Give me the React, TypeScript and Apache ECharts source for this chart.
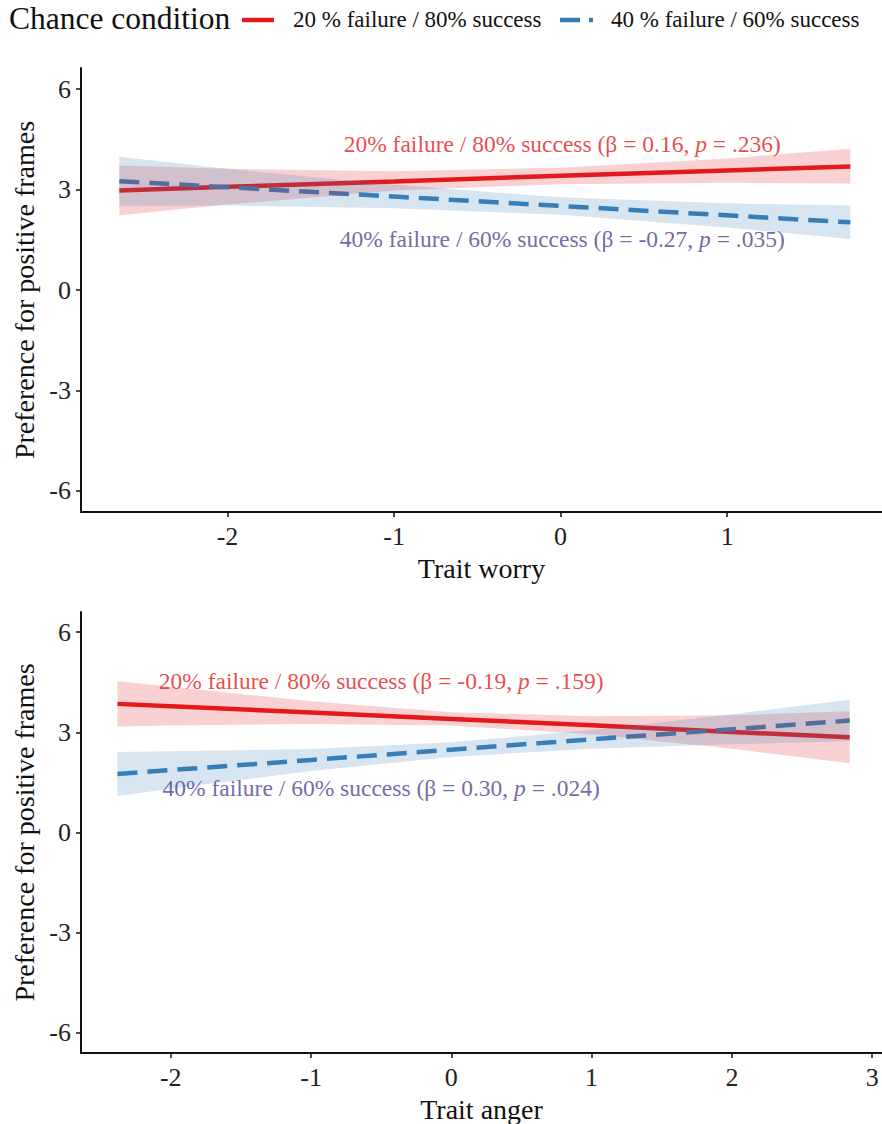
import React, { useEffect, useRef } from "react";
import * as echarts from "echarts";

const FONT = "'Liberation Serif', 'Times New Roman', serif";
const RED = "#e41a1c";
const BLUE = "#377eb8";
const PURPLE = "#4e4290";
const RED_FILL = "rgba(228,26,28,0.2)";
const BLUE_FILL = "rgba(55,126,184,0.2)";

const legendTitle = "Chance condition";
const legendNames = ["20 % failure / 80% success", "40 % failure / 60% success"];

const yTicks = [-6, -3, 0, 3, 6];
const worryTicks = [-2, -1, 0, 1];
const angerTicks = [-2, -1, 0, 1, 2, 3];

// Panel 1: Trait worry
const worryX = [-2.65, -2, -1, 0, 1, 1.74];
const worryRedFit = [2.97, 3.08, 3.24, 3.41, 3.57, 3.69];
const worryRedLow = [2.23, 2.55, 2.97, 3.16, 3.2, 3.18];
const worryRedHigh = [3.72, 3.62, 3.55, 3.65, 3.93, 4.22];
const worryBlueFit = [3.25, 3.07, 2.79, 2.51, 2.23, 2.02];
const worryBlueLow = [2.5, 2.52, 2.44, 2.25, 1.87, 1.52];
const worryBlueHigh = [3.98, 3.62, 3.14, 2.77, 2.59, 2.52];

// Panel 2: Trait anger
const angerX = [-2.38, -2, -1, 0, 1, 2, 2.84];
const angerRedFit = [3.85, 3.78, 3.59, 3.4, 3.21, 3.01, 2.85];
const angerRedLow = [3.17, 3.2, 3.25, 3.2, 2.94, 2.51, 2.07];
const angerRedHigh = [4.53, 4.36, 3.93, 3.6, 3.48, 3.51, 3.63];
const angerBlueFit = [1.75, 1.87, 2.17, 2.48, 2.79, 3.09, 3.35];
const angerBlueLow = [1.09, 1.31, 1.84, 2.26, 2.51, 2.64, 2.73];
const angerBlueHigh = [2.41, 2.43, 2.5, 2.7, 3.07, 3.54, 3.97];

// Annotations
const annotations = [
  { panel: 0, x: 0.01, y: 4.36, group: "20% failure / 80% success", beta: "0.16", p: ".236", color: RED },
  { panel: 0, x: 0.01, y: 1.53, group: "40% failure / 60% success", beta: "-0.27", p: ".035", color: PURPLE },
  { panel: 1, x: -0.5, y: 4.53, group: "20% failure / 80% success", beta: "-0.19", p: ".159", color: RED },
  { panel: 1, x: -0.5, y: 1.33, group: "40% failure / 60% success", beta: "0.30", p: ".024", color: PURPLE },
];

const zip = (xs: number[], ys: number[]) => xs.map((x, i) => [x, ys[i]]);

function band(panel: number, xs: number[], lo: number[], hi: number[], fill: string) {
  return {
    type: "custom",
    xAxisIndex: panel,
    yAxisIndex: panel,
    z: 5,
    silent: true,
    data: xs.map((x, i) => [x, lo[i], hi[i]]),
    renderItem: (params: any, api: any) => {
      if (params.dataIndex !== 0) return { type: "group", children: [] };
      const top = xs.map((x, i) => api.coord([x, hi[i]]));
      const bot = xs.map((x, i) => api.coord([x, lo[i]])).reverse();
      return {
        type: "polygon",
        shape: { points: top.concat(bot) },
        style: { fill, stroke: "none" },
      };
    },
  };
}

function fitLine(panel: number, xs: number[], ys: number[], color: string, dashed: boolean, name?: string) {
  return {
    type: "line",
    name,
    xAxisIndex: panel,
    yAxisIndex: panel,
    data: zip(xs, ys),
    showSymbol: false,
    symbol: "none",
    z: 3,
    silent: true,
    lineStyle: { color, width: 4.5, type: dashed ? [20, 10] : "solid", cap: "butt" },
  };
}

function xAxis(panel: number, min: number, max: number, ticks: number[], name: string) {
  return {
    type: "value",
    gridIndex: panel,
    min,
    max,
    name,
    nameLocation: "middle",
    nameGap: 42,
    nameTextStyle: { fontFamily: FONT, fontSize: 28, color: "#111" },
    splitLine: { show: false },
    axisLine: { show: true, onZero: false, lineStyle: { color: "#111", width: 2 } },
    axisTick: { show: true, length: 5, lineStyle: { color: "#111", width: 1.5 }, customValues: ticks },
    axisLabel: { fontFamily: FONT, fontSize: 26, color: "#222", margin: 11, customValues: ticks },
  };
}

function yAxis(panel: number, min: number, max: number) {
  return {
    type: "value",
    gridIndex: panel,
    min,
    max,
    name: "Preference for positive frames",
    nameLocation: "middle",
    nameGap: 42,
    nameRotate: 90,
    nameTextStyle: { fontFamily: FONT, fontSize: 28, color: "#111" },
    splitLine: { show: false },
    axisLine: { show: true, onZero: false, lineStyle: { color: "#111", width: 2 } },
    axisTick: { show: true, length: 5, lineStyle: { color: "#111", width: 1.5 }, customValues: yTicks },
    axisLabel: { fontFamily: FONT, fontSize: 26, color: "#222", margin: 10, customValues: yTicks },
  };
}

export default function App() {
  const ref = useRef<HTMLDivElement>(null);
  useEffect(() => {
    if (!ref.current) return;
    const chart = echarts.init(ref.current, undefined, { renderer: "svg" });
    const labelSeries = annotations.map((a) => ({
      type: "scatter",
      xAxisIndex: a.panel,
      yAxisIndex: a.panel,
      data: [[a.x, a.y]],
      symbolSize: 1,
      z: 10,
      silent: true,
      itemStyle: { color: "transparent" },
      label: {
        show: true,
        position: "inside",
        formatter: `{r|${a.group} (β = ${a.beta}, }{i|p}{r| = ${a.p})}`,
        rich: {
          r: { fontFamily: FONT, fontSize: 23.5, color: a.color },
          i: { fontFamily: FONT, fontSize: 23.5, color: a.color, fontStyle: "italic" },
        },
      },
    }));
    chart.setOption({
      animation: false,
      backgroundColor: "#ffffff",
      grid: [
        { left: 81, top: 68, width: 801, height: 444 },
        { left: 81, top: 612, width: 801, height: 442 },
      ],
      xAxis: [xAxis(0, -2.88, 1.93, worryTicks, "Trait worry"), xAxis(1, -2.64, 3.07, angerTicks, "Trait anger")],
      yAxis: [yAxis(0, -6.63, 6.63), yAxis(1, -6.6, 6.6)],
      graphic: [
        {
          type: "text",
          left: 9,
          top: 2,
          style: { text: legendTitle, fontFamily: FONT, fontSize: 31.5, fill: "#111" },
        },
        { type: "line", shape: { x1: 242, y1: 20, x2: 274, y2: 20 }, style: { stroke: RED, lineWidth: 4.5 } },
        {
          type: "text",
          left: 293,
          top: 8,
          style: { text: legendNames[0], fontFamily: FONT, fontSize: 23, fill: "#111" },
        },
        {
          type: "line",
          shape: { x1: 560, y1: 20, x2: 593, y2: 20 },
          style: { stroke: BLUE, lineWidth: 4.5, lineDash: [20, 9] },
        },
        {
          type: "text",
          left: 611,
          top: 8,
          style: { text: legendNames[1], fontFamily: FONT, fontSize: 23, fill: "#111" },
        },
      ],
      series: [
        fitLine(0, worryX, worryRedFit, RED, false, legendNames[0]),
        fitLine(0, worryX, worryBlueFit, BLUE, true, legendNames[1]),
        band(0, worryX, worryRedLow, worryRedHigh, RED_FILL),
        band(0, worryX, worryBlueLow, worryBlueHigh, BLUE_FILL),
        fitLine(1, angerX, angerRedFit, RED, false, legendNames[0]),
        fitLine(1, angerX, angerBlueFit, BLUE, true, legendNames[1]),
        band(1, angerX, angerRedLow, angerRedHigh, RED_FILL),
        band(1, angerX, angerBlueLow, angerBlueHigh, BLUE_FILL),
        ...labelSeries,
      ],
    });
    return () => chart.dispose();
  }, []);
  return (
    <div
      ref={ref}
      style={{ position: "absolute", left: 0, top: 0, width: 882, height: 1124, background: "#fff" }}
    />
  );
}
